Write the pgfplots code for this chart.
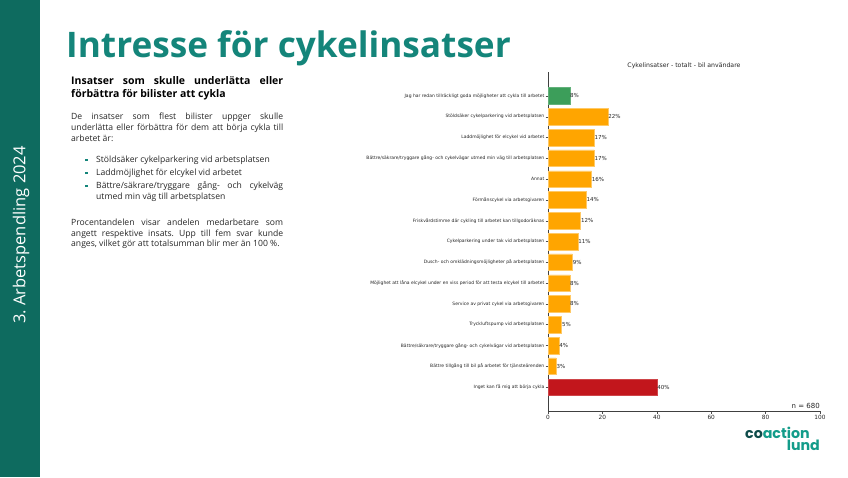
\documentclass[border=0pt]{standalone}
\usepackage{pgfplots}
\pgfplotsset{compat=1.18}
\usepackage{fontspec}
\setmainfont{Open Sans}
\newfontfamily\chartfont{DejaVu Sans}
\newfontfamily\logofont{Poppins}
\definecolor{side}{HTML}{0E6B5F}
\definecolor{titlec}{HTML}{14857A}
\definecolor{barg}{HTML}{3C9E5A}
\definecolor{baro}{HTML}{FFA500}
\definecolor{barr}{HTML}{C2161C}
\definecolor{logod}{HTML}{0F4C4A}
\definecolor{logot}{HTML}{139C8A}
\definecolor{bodyc}{HTML}{262626}
\frenchspacing
\newcommand\bul{\noindent\hangindent=25pt\hangafter=1\makebox[14pt][l]{}\makebox[11pt][l]{\textcolor{titlec}{\raisebox{1.3pt}{\rule{2.5pt}{2.5pt}}}}}
\newcommand\bodyfont{\fontsize{8.6}{11}\selectfont\tolerance=10000\hyphenpenalty=10000\frenchspacing}
\begin{document}
\begin{tikzpicture}[x=1pt,y=1pt]
\fill[white] (0,0) rectangle (848,-477);
\fill[side] (0,0) rectangle (40,-477);
\node[rotate=90, text=white, font=\fontsize{16.5}{18}\selectfont, inner sep=0] at (21,-235) {3. Arbetspendling 2024};
\node[anchor=base west, text=titlec, font=\fontsize{35.2}{40}\selectfont\bfseries, inner sep=0] at (66,-57) {Intresse för cykelinsatser};
% text block
\node[anchor=base west, inner sep=0, text=black] at (71,-84.5) {\begin{minipage}[t]{212pt}\fontsize{10.5}{12.5}\selectfont\bfseries\tolerance=10000\hyphenpenalty=10000
Insatser som skulle underlätta eller\linebreak förbättra för bilister att cykla\end{minipage}};
\node[anchor=base west, inner sep=0, text=bodyc] at (71,-119.5) {\begin{minipage}[t]{212pt}\bodyfont
De insatser som flest bilister uppger skulle\linebreak underlätta eller förbättra för dem att börja cykla till\linebreak arbetet är:\end{minipage}};
\node[anchor=base west, inner sep=0, text=bodyc] at (71,-162.5) {\begin{minipage}[t]{212pt}\bodyfont
\bul Stöldsäker cykelparkering vid arbetsplatsen\end{minipage}};
\node[anchor=base west, inner sep=0, text=bodyc] at (71,-175.5) {\begin{minipage}[t]{212pt}\bodyfont
\bul Laddmöjlighet för elcykel vid arbetet\end{minipage}};
\node[anchor=base west, inner sep=0, text=bodyc] at (71,-188.5) {\begin{minipage}[t]{212pt}\bodyfont
\bul Bättre/säkrare/tryggare gång- och cykelväg\linebreak utmed min väg till arbetsplatsen\end{minipage}};
\node[anchor=base west, inner sep=0, text=bodyc] at (71,-225.5) {\begin{minipage}[t]{212pt}\fontsize{8.6}{10.5}\selectfont\tolerance=10000\hyphenpenalty=10000\frenchspacing
Procentandelen visar andelen medarbetare som\linebreak angett respektive insats. Upp till fem svar kunde\linebreak anges, vilket gör att totalsumman blir mer än 100~\%.\end{minipage}};
% logo
\node[anchor=base west, inner sep=0, font=\logofont\bfseries\fontsize{14.2}{15}\selectfont] at (745,-438) {\textcolor{logod}{co}\textcolor{logot}{action}};
\node[anchor=base east, inner sep=0, font=\logofont\bfseries\fontsize{14.2}{15}\selectfont, text=logot] at (820,-450.5) {lund};
% chart
\begin{axis}[
  at={(548pt,-411pt)}, anchor=south west,
  scale only axis, width=272pt, height=339pt,
  xbar, bar shift=0pt, bar width=0.8,
  xmin=0, xmax=100, ymin=-1.15, ymax=15.15,
  axis x line*=bottom, axis y line*=left,
  /pgf/number format/assume math mode=true,
  xtick={0,20,...,100}, ytick={0,...,14},
  yticklabels={Inget kan få mig att börja cykla,
    Bättre tillgång till bil på arbetet för tjänsteärenden,
    Bättre/säkrare/tryggare gång- och cykelvägar vid arbetsplatsen,
    Tryckluftspump vid arbetsplatsen,
    Service av privat cykel via arbetsgivaren,
    Möjlighet att låna elcykel under en viss period för att testa elcykel till arbetet,
    Dusch- och omklädningsmöjligheter på arbetsplatsen,
    Cykelparkering under tak vid arbetsplatsen,
    Friskvårdstimme där cykling till arbetet kan tillgodoräknas,
    Förmånscykel via arbetsgivaren,
    Annat,
    Bättre/säkrare/tryggare gång- och cykelvägar utmed min väg till arbetsplatsen,
    Laddmöjlighet för elcykel vid arbetet,
    Stöldsäker cykelparkering vid arbetsplatsen,
    Jag har redan tillräckligt goda möjligheter att cykla till arbetet},
  tick style={draw=black!70, line width=0.4pt},
  major tick length=2.5pt,
  tick align=outside,
  axis line style={draw=black!75, line width=0.5pt},
  y tick label style={font=\chartfont\fontsize{4.5}{5}\selectfont, text=black!85, inner sep=1pt},
  x tick label style={font=\chartfont\fontsize{5.8}{6}\selectfont, text=black!85, inner sep=1.5pt},
  title={Cykelinsatser - totalt - bil användare},
  title style={font=\chartfont\fontsize{6.2}{7}\selectfont, text=black!85, yshift=-6.5pt},
  nodes near coords={\pgfmathprintnumber{\pgfplotspointmeta}\%},
  nodes near coords style={font=\chartfont\fontsize{5.5}{6}\selectfont, anchor=west, inner sep=0.3pt, text=black!85},
  point meta=x,
  clip=false,
]
\addplot[fill=barg, draw=barg!80!white, line width=0.3pt] coordinates {(8,14)};
\addplot[fill=baro, draw=baro!60!white, line width=0.3pt] coordinates {
(22,13) (17,12) (17,11) (16,10) (14,9) (12,8) (11,7) (9,6) (8,5) (8,4) (5,3) (4,2) (3,1)};
\addplot[fill=barr, draw=barr!80!white, line width=0.3pt] coordinates {(40,0)};
\node[anchor=base east, inner sep=0, font=\chartfont\fontsize{7}{8}\selectfont, text=black!85] at (rel axis cs:1,0) [yshift=3pt] {n = 680};
\end{axis}
\end{tikzpicture}
\end{document}
